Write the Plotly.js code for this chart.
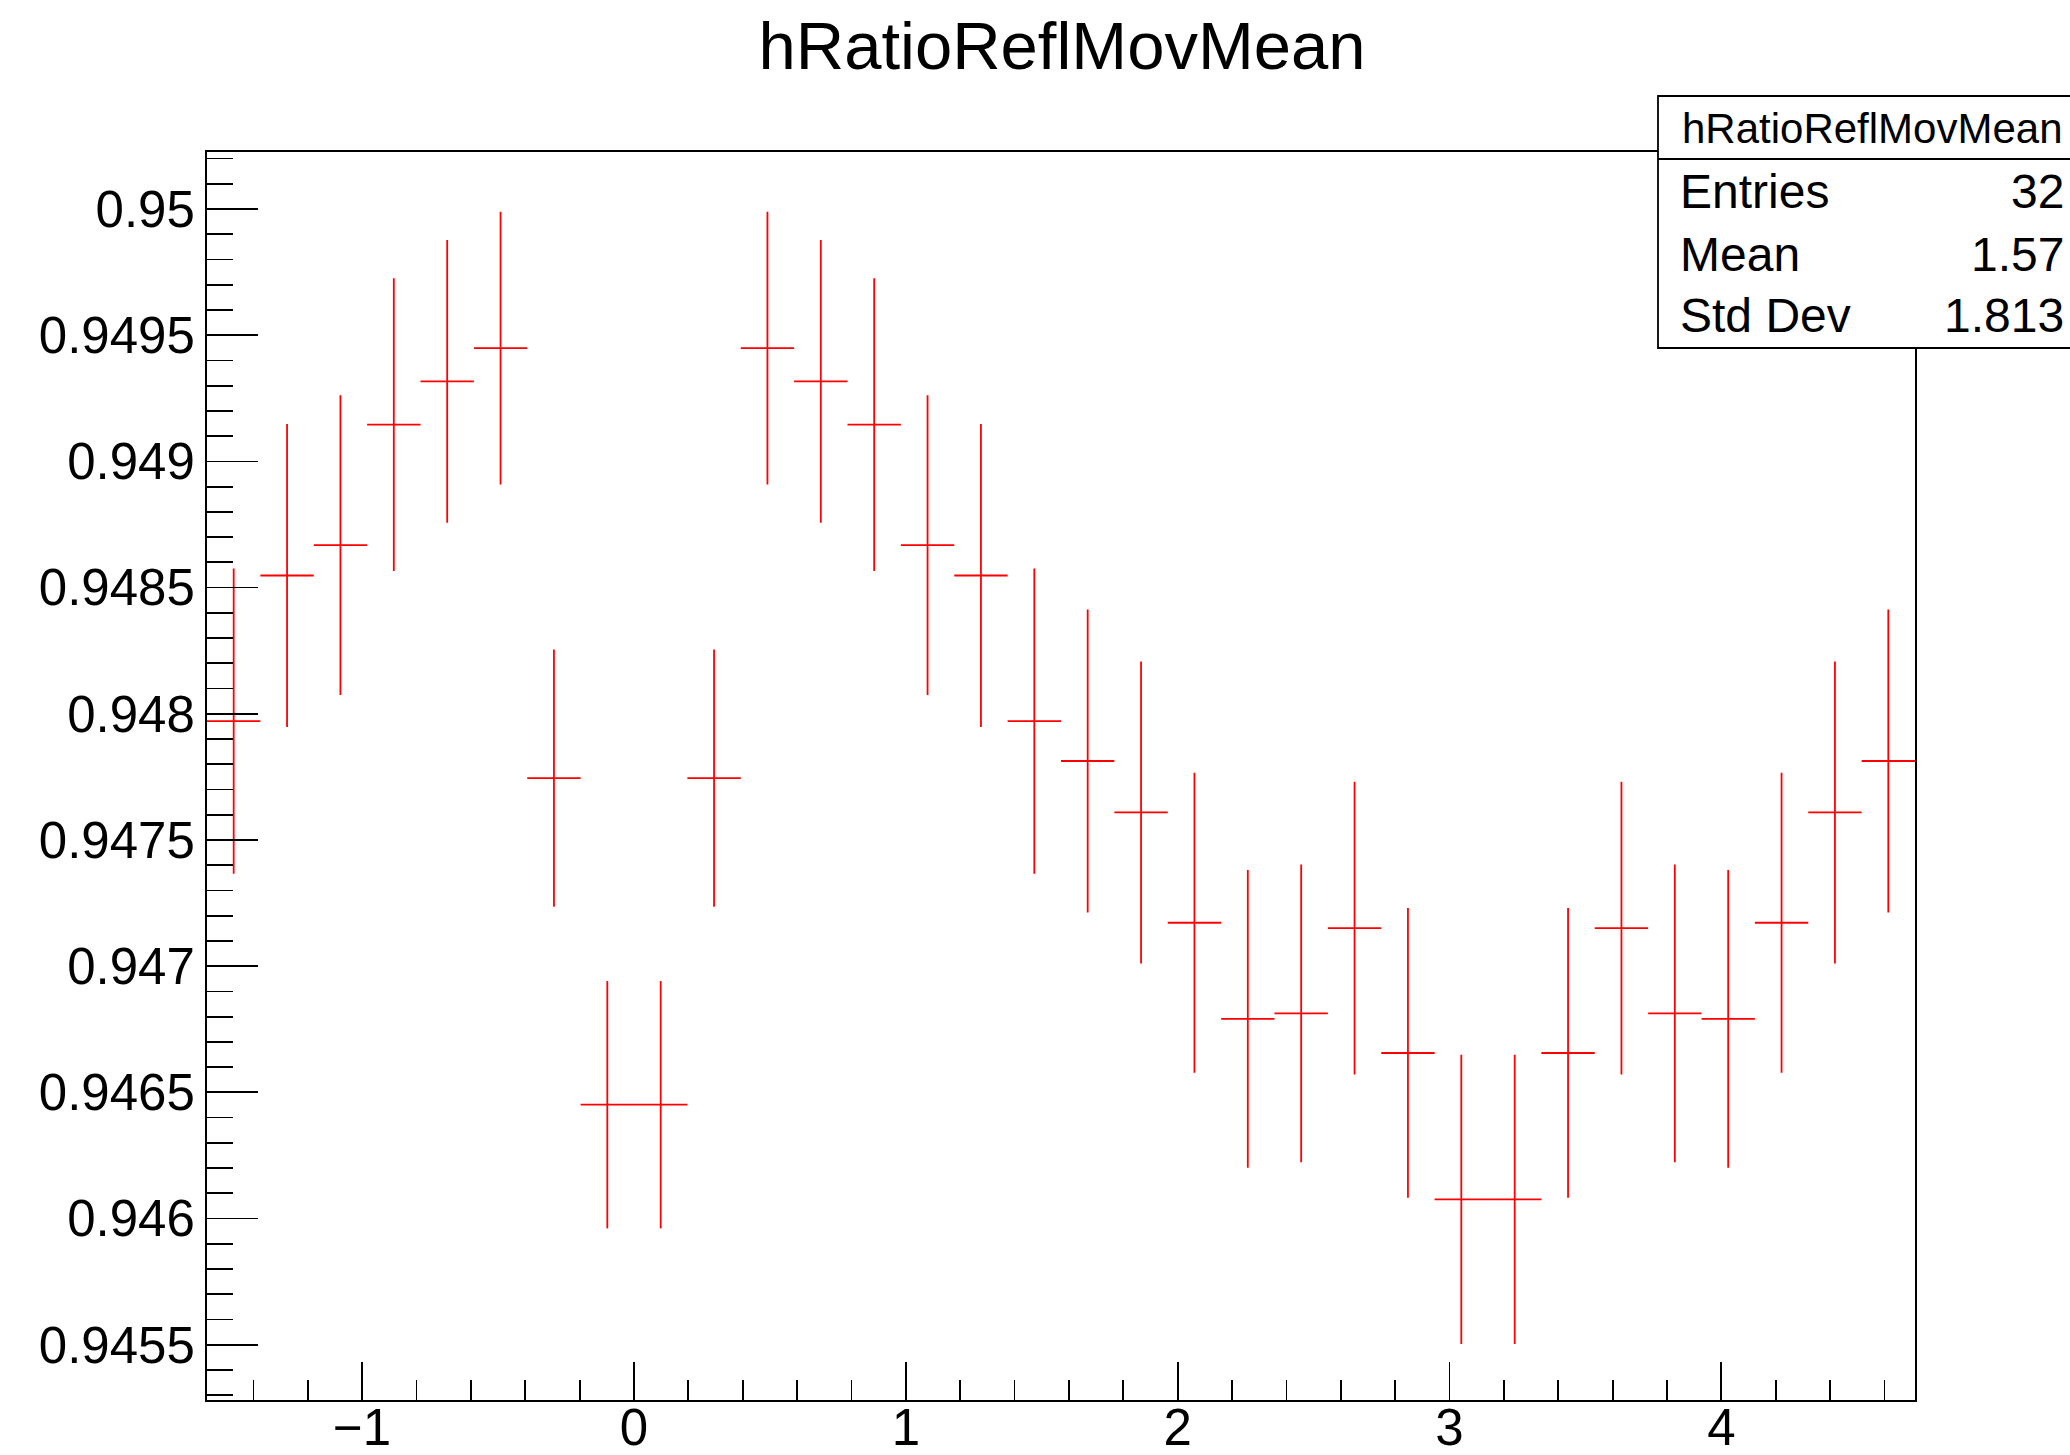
<!DOCTYPE html>
<html>
<head>
<meta charset="utf-8">
<script src="https://cdn.plot.ly/plotly-3.0.1.min.js"></script>
<style>
  html, body { margin: 0; padding: 0; background: #ffffff; }
  #chart { width: 2070px; height: 1455px; }
</style>
</head>
<body>
<div id="chart"></div>
<script>
// ---- data (histogram hRatioReflMovMean, 32 bins from -pi/2 to 3pi/2) ----
const binCenters = [
  -1.47262, -1.27627, -1.07992, -0.88357, -0.68722, -0.49087, -0.29452, -0.09817,
   0.09817,  0.29452,  0.49087,  0.68722,  0.88357,  1.07992,  1.27627,  1.47262,
   1.66897,  1.86532,  2.06167,  2.25802,  2.45437,  2.65072,  2.84707,  3.04342,
   3.23977,  3.43612,  3.63247,  3.82882,  4.02517,  4.22152,  4.41787,  4.61422
];
const binHalfWidth = 0.098175;
const binValues = [
  0.947971, 0.948548, 0.948668, 0.949146, 0.949317, 0.949449, 0.947745, 0.946451,
  0.946451, 0.947745, 0.949449, 0.949317, 0.949146, 0.948668, 0.948548, 0.947971,
  0.947813, 0.947609, 0.947172, 0.946791, 0.946813, 0.947151, 0.946656, 0.946076,
  0.946076, 0.946656, 0.947151, 0.946813, 0.946791, 0.947172, 0.947609, 0.947813
];
const binErrors = [
  0.000605, 0.000600, 0.000594, 0.000580, 0.000560, 0.000540, 0.000510, 0.000490,
  0.000490, 0.000510, 0.000540, 0.000560, 0.000580, 0.000594, 0.000600, 0.000605,
  0.000600, 0.000598, 0.000594, 0.000590, 0.000590, 0.000580, 0.000574, 0.000573,
  0.000573, 0.000574, 0.000580, 0.000590, 0.000590, 0.000594, 0.000598, 0.000600
];
const yTickVals = [0.9455, 0.946, 0.9465, 0.947, 0.9475, 0.948, 0.9485, 0.949, 0.9495, 0.95];
const yTickText = ["0.9455", "0.946", "0.9465", "0.947", "0.9475", "0.948", "0.9485", "0.949", "0.9495", "0.95"];
const xTickVals = [-1, 0, 1, 2, 3, 4];
const xTickText = ["\u22121", "0", "1", "2", "3", "4"];

const chartTitle = "hRatioReflMovMean";
const statsLabels = ["Entries", "Mean", "Std Dev"];
const statsValues = ["32", "1.57", "1.813"];

// ---- layout geometry (pixels) ----
const W = 2070, H = 1455;
const plotL = 207, plotR = 1915, plotT = 152, plotB = 1400;
const px = x => (x - plotL) / (plotR - plotL);
const py = y => (plotB - y) / (plotB - plotT);

const FONT = "Liberation Sans, Arial, Helvetica, sans-serif";

const trace = {
  type: "scatter",
  mode: "markers",
  x: binCenters,
  y: binValues,
  marker: { size: 1, color: "rgba(255,0,0,0)" },
  error_y: { type: "data", array: binErrors, visible: true, color: "#ff0000", thickness: 1.8, width: 0 },
  error_x: { type: "constant", value: binHalfWidth, visible: true, color: "#ff0000", thickness: 1.8, width: 0 },
  hoverinfo: "x+y",
  showlegend: false,
  cliponaxis: true
};

// stats box
const boxL = 1658, boxR = 2090, boxT = 96, boxB = 348, boxDiv = 159;
const shapes = [
  { type: "rect", xref: "paper", yref: "paper", x0: px(boxL), x1: px(boxR), y0: py(boxB), y1: py(boxT),
    fillcolor: "#ffffff", line: { color: "#000000", width: 1.8 }, layer: "above" },
  { type: "line", xref: "paper", yref: "paper", x0: px(boxL), x1: px(boxR), y0: py(boxDiv), y1: py(boxDiv),
    line: { color: "#000000", width: 1.8 }, layer: "above" }
];

const rowY = [191.7, 254.2, 315.8];
const annotations = [
  { xref: "paper", yref: "paper", x: px(1872), y: py(128.3), xanchor: "center", yanchor: "middle",
    text: chartTitle, showarrow: false, font: { family: FONT, size: 42, color: "#000" } }
];
statsLabels.forEach((lab, i) => {
  annotations.push({ xref: "paper", yref: "paper", x: px(1678), y: py(rowY[i]), xanchor: "left", yanchor: "middle",
    text: lab, showarrow: false, font: { family: FONT, size: 48, color: "#000" } });
  annotations.push({ xref: "paper", yref: "paper", x: px(2066), y: py(rowY[i]), xanchor: "right", yanchor: "middle",
    text: statsValues[i], showarrow: false, font: { family: FONT, size: 48, color: "#000" } });
});

const layout = {
  width: W, height: H,
  paper_bgcolor: "#ffffff", plot_bgcolor: "#ffffff",
  margin: { l: plotL, r: W - plotR, t: plotT, b: H - plotB, pad: 0, autoexpand: false },
  font: { family: FONT, color: "#000" },
  title: { text: chartTitle, font: { family: FONT, size: 67, color: "#000" },
           xref: "container", yref: "container", x: 1062 / W, y: 1 - 46 / H, xanchor: "center", yanchor: "middle" },
  xaxis: {
    range: [-Math.PI / 2, 3 * Math.PI / 2],
    showgrid: false, zeroline: false,
    showline: true, mirror: true, linecolor: "#000", linewidth: 2,
    ticks: "inside", ticklen: 38, tickwidth: 1.8, tickcolor: "#000",
    tickmode: "array", tickvals: xTickVals, ticktext: xTickText,
    tickfont: { family: FONT, size: 51, color: "#000" },
    ticklabelstandoff: -18,
    minor: { tickmode: "linear", tick0: 0, dtick: 0.2, ticks: "inside", ticklen: 20, tickwidth: 1.8, tickcolor: "#000", showgrid: false },
    fixedrange: true
  },
  yaxis: {
    range: [0.945281, 0.950226],
    showgrid: false, zeroline: false,
    showline: true, mirror: true, linecolor: "#000", linewidth: 2,
    ticks: "inside", ticklen: 51, tickwidth: 1.8, tickcolor: "#000",
    tickmode: "array", tickvals: yTickVals, ticktext: yTickText,
    tickfont: { family: FONT, size: 51, color: "#000" },
    minor: { tickmode: "linear", tick0: 0.945, dtick: 0.0001, ticks: "inside", ticklen: 26, tickwidth: 1.8, tickcolor: "#000", showgrid: false },
    fixedrange: true
  },
  shapes: shapes,
  annotations: annotations,
  showlegend: false
};

Plotly.newPlot("chart", [trace], layout, { staticPlot: true, displayModeBar: false });
</script>
</body>
</html>
